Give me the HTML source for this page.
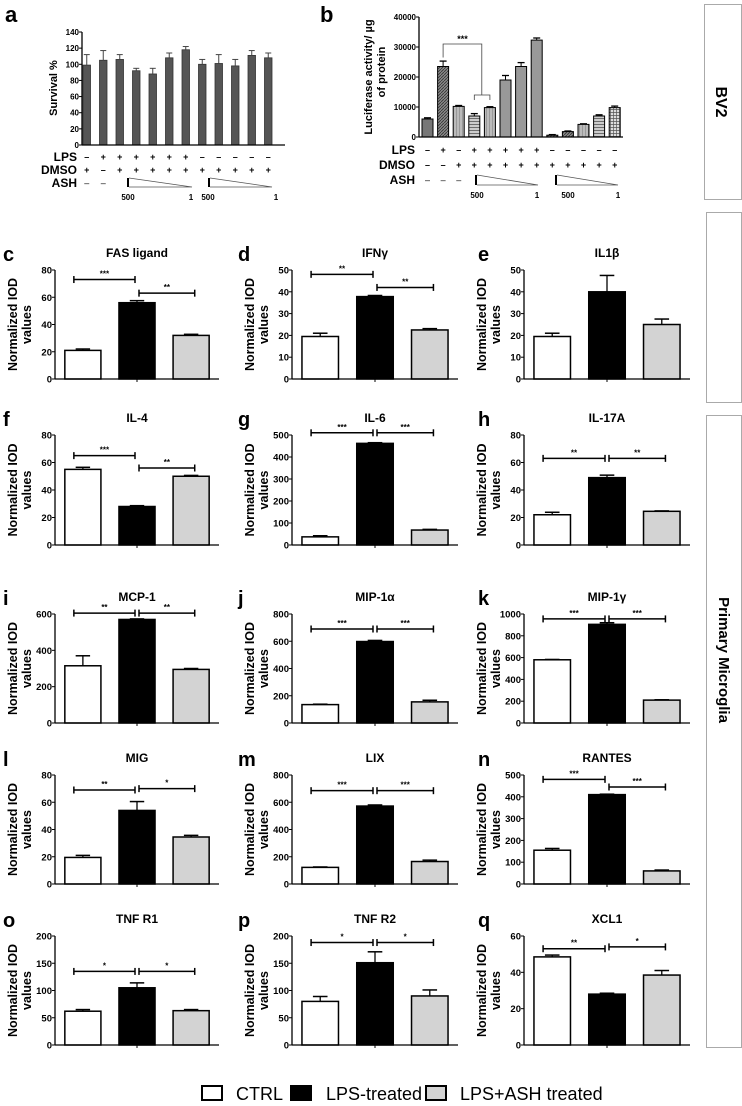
<!DOCTYPE html>
<html><head><meta charset="utf-8">
<style>
html,body{margin:0;padding:0;background:#fff;}
svg{display:block;font-family:"Liberation Sans",Arial,sans-serif;}
.nar{font-family:"Liberation Sans Narrow","Liberation Sans",sans-serif;}
</style></head>
<body>
<svg id="fig" width="742" height="1106" viewBox="0 0 742 1106" xmlns="http://www.w3.org/2000/svg">
<defs>
<pattern id="p1" width="3" height="3" patternUnits="userSpaceOnUse"><rect width="3" height="3" fill="#888"/><path d="M0 3L3 0" stroke="#333" stroke-width="0.8"/></pattern>
<pattern id="p2" width="3" height="3" patternUnits="userSpaceOnUse"><rect width="3" height="3" fill="#bbb"/><path d="M0 0V3" stroke="#666" stroke-width="0.8"/></pattern>
<pattern id="p3" width="3" height="3" patternUnits="userSpaceOnUse"><rect width="3" height="3" fill="#ccc"/><path d="M0 1.5H3" stroke="#555" stroke-width="0.8"/></pattern>
<pattern id="p4" width="3" height="3" patternUnits="userSpaceOnUse"><rect width="3" height="3" fill="#ddd"/><path d="M0 1.5H3M1.5 0V3" stroke="#555" stroke-width="0.7"/></pattern>
</defs>
<g id="root"></g>
</svg>
<script>
// ---------- Panel a data ----------
const aValues = [99,105,106,92,88,108,118,100,101,98,111,108];
const aErrors = [13,12,6,3,7,6,4,6,11,8,6,6];
const aTicks = [0,20,40,60,80,100,120,140];
const aLPS = ['-','+','+','+','+','+','+','-','-','-','-','-'];
const aDMSO = ['+','-','+','+','+','+','+','+','+','+','+','+'];
// ---------- Panel b data ----------
const bValues = [6000,23500,10200,7000,9800,19000,23500,32300,600,1800,4200,7000,9800];
const bErrors = [400,1800,300,800,300,1500,1300,700,200,200,200,400,500];
const bTicks = [0,10000,20000,30000,40000];
const bLPS = ['-','+','-','+','+','+','+','+','-','-','-','-','-'];
const bDMSO = ['-','-','+','+','+','+','+','+','+','+','+','+','+'];
const bFills = ['#777','url(#p1)','url(#p2)','url(#p3)','url(#p2)','#999','#999','#999','url(#p1)','url(#p1)','url(#p2)','url(#p3)','url(#p4)'];
// ---------- Small panels data ----------
const panelLetters = ['c','d','e','f','g','h','i','j','k','l','m','n','o','p','q'];
const panelTitles = ['FAS ligand','IFNγ','IL1β','IL-4','IL-6','IL-17A','MCP-1','MIP-1α','MIP-1γ','MIG','LIX','RANTES','TNF R1','TNF R2','XCL1'];
const panelValues = [[21,56,32],[19.5,37.8,22.5],[19.5,40,25],[55,28,50],[37,462,68],[22,49,24.5],[315,570,295],[135,598,155],[580,905,210],[19.5,54,34.5],[122,572,165],[155,410,60],[62,105,63],[80,151,90],[48.5,28,38.5]];
const panelErrors = [[1,1.5,0.8],[1.5,0.5,0.6],[1.5,7.5,2.5],[1.5,0.6,0.6],[5,3,3],[1.8,1.8,0.3],[55,3,5],[3,8,12],[3,15,3],[1.5,6.5,1.2],[3,8,10],[8,2,4],[3,9,2],[9,20,11],[1,0.5,2.5]];
const panelMax = [80,50,50,80,500,80,600,800,1000,80,800,500,200,200,60];
const panelStep = [20,10,10,20,100,20,200,200,200,20,200,100,50,50,20];
const sigLeft = [[73,'***'],[48,'**'],null,[65,'***'],[510,'***'],[63,'**'],[605,'**'],[690,'***'],[955,'***'],[69,'**'],[685,'***'],[480,'***'],[135,'*'],[188,'*'],[53,'**']];
const sigRight = [[63,'**'],[42,'**'],null,[56,'**'],[510,'***'],[63,'**'],[605,'**'],[690,'***'],[955,'***'],[70,'*'],[685,'***'],[445,'***'],[135,'*'],[188,'*'],[54,'*']];

const NS='http://www.w3.org/2000/svg';
const root=document.getElementById('root');
function mk(tag,attrs,parent,txt){const e=document.createElementNS(NS,tag);for(const k in attrs)e.setAttribute(k,attrs[k]);if(txt!==undefined)e.textContent=txt;(parent||root).appendChild(e);return e;}
function line(x1,y1,x2,y2,w,p,c){return mk('line',{x1,y1,x2,y2,stroke:c||'#000','stroke-width':w||1},p);}

// ---------- Panel a ----------
(function(){
  const g=mk('g',{});
  
  
  const x0=82,x1=285,yT=32,yB=145,max=140;
  const Y=v=>yB-(v/max)*(yB-yT);
  const X=i=>83+i*16.5;
  const lt=mk('text',{x:5,y:22,'font-size':22,'font-weight':'bold'},g,'a');
  
  
  aValues.forEach((v,i)=>{
    const b=mk('rect',{x:X(i),y:Y(v),width:7.5,height:yB-Y(v),fill:'#555',stroke:'#333','stroke-width':0.8},g);
    
    
    const cx=X(i)+3.75;
    line(cx,Y(v),cx,Y(v+aErrors[i]),1,g,'#444');
    line(cx-3,Y(v+aErrors[i]),cx+3,Y(v+aErrors[i]),1,g,'#444');
  });
  line(x0,yT,x0,yB,1.3,g);line(x0,yB,x1,yB,1.3,g);
  aTicks.forEach(t=>{line(x0-3,Y(t),x0,Y(t),1,g);
    const tt=mk('text',{x:x0-3,y:Y(t)+3,'font-size':8,'font-weight':'bold','text-anchor':'end'},g,t);
    
    });
  const yl=mk('text',{transform:'translate(57,88) rotate(-90)','font-size':11,'font-weight':'bold','text-anchor':'middle'},g,'Survival %');
  
  
  [['LPS',161,aLPS],['DMSO',174,aDMSO],['ASH',187,null]].forEach(r=>{
    const t=mk('text',{x:77,y:r[1],'font-size':12,'font-weight':'bold','text-anchor':'end'},g,r[0]);
    
    
    if(r[2]) r[2].forEach((s,i)=>{const ss=mk('text',{x:X(i)+3.75,y:r[1]-1,'font-size':9,'font-weight':'bold','text-anchor':'middle'},g,s==='-'?'–':'+');});
  });
  mk('text',{x:X(0)+3.75,y:186,'font-size':9,'text-anchor':'middle'},g,'–');
  mk('text',{x:X(1)+3.75,y:186,'font-size':9,'text-anchor':'middle'},g,'–');
  [[127,192],[208,272]].forEach(p=>{
    mk('rect',{x:p[0],y:178,width:2,height:9,fill:'#000'},g);
    mk('polyline',{points:`${p[0]+2},178 ${p[1]},187 ${p[0]+2},187`,fill:'none',stroke:'#555','stroke-width':0.8},g);
  });
  [[128,'500'],[191,'1'],[208,'500'],[276,'1']].forEach(n=>mk('text',{x:n[0],y:200,'font-size':8,'font-weight':'bold','text-anchor':'middle'},g,n[1]));
})();

// ---------- Panel b ----------
(function(){
  const g=mk('g',{});
  
  
  const x0=419,x1=623,yT=17,yB=137,max=40000;
  const Y=v=>yB-(v/max)*(yB-yT);
  const X=i=>422+i*15.6;
  const lt=mk('text',{x:320,y:22,'font-size':22,'font-weight':'bold'},g,'b');
  
  
  bValues.forEach((v,i)=>{
    const b=mk('rect',{x:X(i),y:Y(v),width:11,height:yB-Y(v),fill:bFills[i],stroke:'#000','stroke-width':1},g);
    
    
    const cx=X(i)+5.5;
    line(cx,Y(v),cx,Y(v+bErrors[i]),1,g);
    line(cx-3.5,Y(v+bErrors[i]),cx+3.5,Y(v+bErrors[i]),1.3,g);
  });
  line(x0,yT,x0,yB,1.3,g);line(x0,yB,x1,yB,1.3,g);
  bTicks.forEach(t=>{line(x0-3,Y(t),x0,Y(t),1,g);
    const tt=mk('text',{x:x0-3,y:Y(t)+3,'font-size':8,'font-weight':'bold','text-anchor':'end'},g,t);
    
    });
  const yl=mk('text',{transform:'translate(372,77) rotate(-90)','font-size':11,'font-weight':'bold','text-anchor':'middle'},g,'Luciferase activity/ µg');
  
  
  mk('text',{transform:'translate(385,72) rotate(-90)','font-size':11,'font-weight':'bold','text-anchor':'middle'},g,'of  protein');
  // significance bracket
  const bx=X(1)+5.5, mx=X(3)+13;
  mk('polyline',{points:`${bx},${Y(26500)} ${bx},44 ${mx},44 ${mx},95`,fill:'none',stroke:'#444','stroke-width':0.8},g);
  mk('polyline',{points:`${X(3)+5.5},100 ${X(3)+5.5},95 ${X(4)+5.5},95 ${X(4)+5.5},100`,fill:'none',stroke:'#444','stroke-width':0.8},g);
  const st=mk('text',{x:(bx+mx)/2,y:42,'font-size':9,'font-weight':'bold','text-anchor':'middle'},g,'***');
  
  
  [['LPS',154,bLPS],['DMSO',169,bDMSO],['ASH',184,null]].forEach(r=>{
    const t=mk('text',{x:415,y:r[1],'font-size':12,'font-weight':'bold','text-anchor':'end'},g,r[0]);
    
    
    if(r[2]) r[2].forEach((s,i)=>mk('text',{x:X(i)+5.5,y:r[1]-1,'font-size':9,'font-weight':'bold','text-anchor':'middle'},g,s==='-'?'–':'+'));
  });
  [0,1,2].forEach(i=>mk('text',{x:X(i)+5.5,y:183,'font-size':9,'text-anchor':'middle'},g,'–'));
  [[475,538],[555,618]].forEach(p=>{
    mk('rect',{x:p[0],y:175,width:2,height:10,fill:'#000'},g);
    mk('polyline',{points:`${p[0]+2},175 ${p[1]},185 ${p[0]+2},185`,fill:'none',stroke:'#555','stroke-width':0.8},g);
  });
  [[477,'500'],[537,'1'],[568,'500'],[618,'1']].forEach(n=>mk('text',{x:n[0],y:198,'font-size':8,'font-weight':'bold','text-anchor':'middle'},g,n[1]));
})();

// ---------- Side boxes ----------
(function(){
  const b1=mk('rect',{x:704.5,y:4.5,width:37,height:195,fill:'#fff',stroke:'#aaa','stroke-width':1});
  
  
  const t1=mk('text',{transform:'translate(716,102) rotate(90)','font-size':16,'font-weight':'bold','text-anchor':'middle'},root,'BV2');
  
  
  const b2=mk('rect',{x:706.5,y:212.5,width:35,height:190,fill:'#fff',stroke:'#aaa','stroke-width':1});
  
  
  const b3=mk('rect',{x:706.5,y:415.5,width:35,height:632,fill:'#fff',stroke:'#aaa','stroke-width':1});
  
  
  const t3=mk('text',{transform:'translate(719,660) rotate(90)','font-size':15,'font-weight':'bold','text-anchor':'middle'},root,'Primary Microglia');
  
  
})();

// ---------- Small panels ----------
const rowsY=[[270,379],[435,545],[614,723],[775,884],[936,1045]];
const colsX=[[55,219],[292,458],[524,690]];
const letterX=[3,238,478];
panelTitles.forEach((title,p)=>{
  const r=Math.floor(p/3), c=p%3;
  const [yT,yB]=rowsY[r], [x0,x1]=colsX[c];
  const g=mk('g',{});
  
  
  const max=panelMax[p], W=x1-x0;
  const Y=v=>yB-(v/max)*(yB-yT);
  const lt=mk('text',{x:letterX[c],y:yT-9,'font-size':20,'font-weight':'bold'},g,panelLetters[p]);
  
  
  const tt=mk('text',{x:x0+W/2,y:yT-13,'font-size':12,'font-weight':'bold','text-anchor':'middle','class':'nar'},g,title);
  
  
  const fills=['#fff','#000','#d3d3d3'], offs=[0.06,0.39,0.72], bw=W*0.22;
  const cxs=[];
  panelValues[p].forEach((v,i)=>{
    const bx=x0+W*offs[i]; const cx=bx+bw/2; cxs.push(cx);
    const e=panelErrors[p][i];
    line(cx,Y(v),cx,Y(v+e),1.3,g);
    line(cx-bw*0.2,Y(v+e),cx+bw*0.2,Y(v+e),1.5,g);
    const b=mk('rect',{x:bx,y:Y(v),width:bw,height:yB-Y(v),fill:fills[i],stroke:'#000','stroke-width':1.5},g);
    
    
  });
  line(x0,yT,x0,yB,1.3,g);line(x0,yB,x1,yB,1.3,g);
  line(x0+W/2,yB,x0+W/2,yB+3,1,g);
  for(let t=0;t<=max+1e-9;t+=panelStep[p]){
    line(x0-3,Y(t),x0,Y(t),1,g);
    const tl=mk('text',{x:x0-3,y:Y(t)+3.5,'font-size':9.5,'font-weight':'bold','text-anchor':'end'},g,t);
    
    
  }
  const my=(yT+yB)/2;
  const y1=mk('text',{transform:`translate(${x0-38},${my}) rotate(-90)`,'font-size':12.5,'font-weight':'bold','text-anchor':'middle'},g,'Normalized IOD');
  
  
  mk('text',{transform:`translate(${x0-24},${my}) rotate(-90)`,'font-size':12.5,'font-weight':'bold','text-anchor':'middle'},g,'values');
  const mid=x0+W/2;
  [[sigLeft[p],cxs[0]-bw*0.25,mid-2],[sigRight[p],mid+2,cxs[2]+bw*0.1]].forEach(s=>{
    if(!s[0])return;
    const yy=Y(s[0][0]);
    line(s[1],yy,s[2],yy,1.5,g);
    line(s[1],yy-3.5,s[1],yy+3.5,1.5,g);
    line(s[2],yy-3.5,s[2],yy+3.5,1.5,g);
    const st=mk('text',{x:(s[1]+s[2])/2,y:yy-3,'font-size':8,'font-weight':'bold','text-anchor':'middle'},g,s[0][1]);
    
    
  });
});

// ---------- Legend ----------
(function(){
  const g=mk('g',{});
  
  
  [[202,'#fff','CTRL',236],[291,'#000','LPS-treated',326],[426,'#d3d3d3','LPS+ASH treated',460]].forEach(it=>{
    const r=mk('rect',{x:it[0],y:1086,width:20,height:14,fill:it[1],stroke:'#000','stroke-width':2},g);
    
    
    const t=mk('text',{x:it[3],y:1100,'font-size':18,'class':'nar'},g,it[2]);
    
    
  });
})();
</script>
</body></html>
